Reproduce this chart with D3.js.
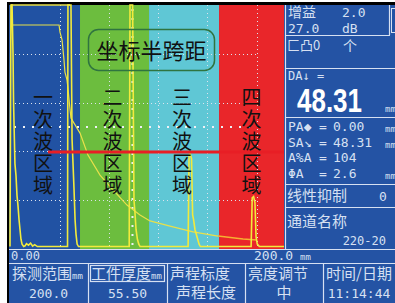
<!DOCTYPE html>
<html>
<head>
<meta charset="utf-8">
<script src="https://cdn.jsdelivr.net/npm/d3@7"></script>
<style>
  html, body { margin: 0; padding: 0; background: #fff; }
  svg { display: block; }
</style>
</head>
<body>
<svg id="chart" width="395" height="303"></svg>
<script>
// ---- data (mm on the sound path axis, % of screen height) ----
const zoneNames = ['一次波区域', '二次波区域', '三次波区域', '四次波区域'];
const zoneEdges = [0, 51.1, 101.5, 152.6, 200];
const zoneColors = ['#2152a3', '#6cbd3e', '#5fc7d5', '#e9262a'];

const gridX = [36.5, 72.3, 108.0, 143.8, 180.3];
const gridY = [20, 40, 60, 80];
const centerX = 89.4;
const centerY = 50;

const gateStart = 27.7;
const gateLevel = 39.8;

// live A-scan trace
const ascan = [
    [0, 1], [0.7, 100], [1.5, 100], [2.2, 80], [2.6, 60], [3.2, 45], [3.6, 35], [4.4, 30],
    [5.1, 22], [5.8, 18], [6.6, 12], [7.3, 8], [8.0, 4], [8.8, 2], [10, 1], [11, 1.3],
    [12, 2.2], [13.5, 1.6], [15, 2.4], [16.5, 1.2], [18, 1.8], [20, 1], [42, 1],
    [42.3, 100], [44.5, 100], [45.3, 45], [46, 35], [46.7, 25], [47.5, 12], [48.2, 6],
    [49, 2], [50, 1], [87, 1], [87.6, 100], [89.5, 100], [90.5, 20], [91.2, 15], [92, 8],
    [93, 4], [94, 2], [95, 1], [130, 1], [130.7, 38.5], [131.5, 39], [132.5, 37], [133.3, 14],
    [134, 12], [135, 8], [136.5, 5], [138, 2], [139, 1], [176, 1], [176.8, 21], [177.8, 21.5],
    [178.8, 19], [179.6, 5], [180.5, 2], [182, 1], [200, 1]
];

// peak envelope across the top of the near field
const envelope = [[0.7, 100], [43.8, 100]];

// distance amplitude curve
const dac = [
    [0.7, 91.8], [35.8, 91.8], [36.5, 88.9], [38.0, 85.7], [38.7, 81.6], [39.4, 77.5],
    [40.1, 72.5], [41.6, 69.3], [42.3, 66.0], [43.1, 61.1], [44.5, 53.7], [51.1, 47.5],
    [56.9, 38.5], [65.7, 30.3], [75.2, 24.2], [85.4, 18.0], [94.9, 13.9], [102.2, 11.5],
    [116.8, 9.4], [133.6, 7.0], [151.8, 5.3], [170.1, 4.1], [180.3, 3.7]
];

const gainLabel = '增益';
const gainStep = '2.0';
const gainValue = '27.0';
const gainUnit = 'dB';
const daValue = '48.31';
const readings = [
    {label: 'PA◆', value: '0.00', unit: 'mm'},
    {label: 'SA↘', value: '48.31', unit: 'mm'},
    {label: 'A%A', value: '104', unit: ''},
    {label: 'ΦA', value: '2.6', unit: 'mm'}
];
const menuLabels = ['探测范围', '工件厚度', '声程标度', '亮度调节', '时间/日期'];
const menuUnits = ['mm', 'mm', '', '', ''];
const menuValues = ['200.0', '55.50', '声程长度', '中', '11:14:44'];
const axisLabels = ['0.00', '200.0'];

// ---- drawing ----
const svg = d3.select('#chart');
const plot = {left: 10, right: 284, top: 5, bottom: 249};

const x = d3.scaleLinear().domain([0, 200]).range([plot.left, plot.right]);
const y = d3.scaleLinear().domain([0, 100]).range([plot.bottom, plot.top]);

const light = '#d6e0f2';
const blue = '#2453a4';
const mono = "'DejaVu Sans Mono', monospace";
const cjk = "'Noto Sans CJK SC', sans-serif";

// frame
svg.append('rect').attr('width', 395).attr('height', 303).attr('fill', '#fff');
svg.append('rect').attr('x', 7).attr('y', 2).attr('width', 388).attr('height', 301).attr('fill', '#000');
svg.append('rect').attr('x', 9).attr('y', 5).attr('width', 386).attr('height', 298).attr('fill', blue);

// colored zones
svg.append('g').selectAll('rect')
    .data(zoneNames)
    .enter().append('rect')
    .attr('x', (d, i) => i === 0 ? plot.left - 1 : x(zoneEdges[i]))
    .attr('y', plot.top)
    .attr('width', (d, i) => x(zoneEdges[i + 1]) - (i === 0 ? plot.left - 1 : x(zoneEdges[i])))
    .attr('height', plot.bottom - plot.top)
    .attr('fill', (d, i) => zoneColors[i]);

// dotted grid
const grid = svg.append('g')
    .attr('stroke', '#dde3ee')
    .attr('stroke-width', 1)
    .attr('stroke-dasharray', '1,3');

grid.selectAll('.gx')
    .data(gridX)
    .enter().append('line')
    .attr('x1', d => Math.round(x(d)) + 0.5).attr('x2', d => Math.round(x(d)) + 0.5)
    .attr('y1', plot.top).attr('y2', plot.bottom);

grid.selectAll('.gy')
    .data(gridY)
    .enter().append('line')
    .attr('x1', x(0) + 5).attr('x2', x(gridX[gridX.length - 1]))
    .attr('y1', d => Math.round(y(d)) + 0.5).attr('y2', d => Math.round(y(d)) + 0.5);

// center cross, bigger dots
const cross = svg.append('g')
    .attr('stroke', '#eef1f6')
    .attr('stroke-width', 2)
    .attr('stroke-dasharray', '2,7');
cross.append('line')
    .attr('x1', x(centerX)).attr('x2', x(centerX))
    .attr('y1', plot.top + 4).attr('y2', plot.bottom);
cross.append('line')
    .attr('x1', x(0) + 4).attr('x2', x(gridX[gridX.length - 1]))
    .attr('y1', y(centerY)).attr('y2', y(centerY));

// traces
const line = d3.line()
    .x(d => x(d[0]))
    .y(d => y(d[1]));

// the curve reads orange where it runs over the red zone
const redStart = zoneEdges[3];
svg.append('path')
    .attr('d', line(dac.filter(d => d[0] <= redStart + 1)))
    .attr('fill', 'none')
    .attr('stroke', '#e8e04a')
    .attr('stroke-width', 1.2);
svg.append('path')
    .attr('d', line(dac.filter(d => d[0] >= redStart - 1)))
    .attr('fill', 'none')
    .attr('stroke', '#f6b030')
    .attr('stroke-width', 1.6);

svg.append('path')
    .attr('d', line(envelope))
    .attr('fill', 'none')
    .attr('stroke', '#e8e04a')
    .attr('stroke-width', 1.5);

svg.append('path')
    .attr('d', line(ascan))
    .attr('fill', 'none')
    .attr('stroke', '#f2ea3c')
    .attr('stroke-width', 1.6);

// gate
svg.append('line')
    .attr('x1', x(gateStart)).attr('x2', plot.right)
    .attr('y1', y(gateLevel)).attr('y2', y(gateLevel))
    .attr('stroke', '#e81e25')
    .attr('stroke-width', 3);

// zone titles, written top to bottom as one vertical text each
svg.append('g').selectAll('text')
    .data(zoneNames)
    .enter().append('text')
    .attr('x', (d, i) => (x(zoneEdges[i]) + x(zoneEdges[i + 1])) / 2 - (i < 3 ? 2 : 0))
    .attr('y', 87)
    .attr('writing-mode', 'vertical-rl')
    .attr('letter-spacing', 2)
    .attr('font-family', cjk)
    .attr('font-size', 20)
    .attr('fill', '#111')
    .text(d => d);

// caption box
svg.append('rect')
    .attr('x', 88.5).attr('y', 29.5).attr('width', 126).attr('height', 41).attr('rx', 10)
    .attr('fill', 'none')
    .attr('stroke', '#2f7440')
    .attr('stroke-width', 1.5);
svg.append('text')
    .attr('x', 151.5).attr('y', 59)
    .attr('text-anchor', 'middle')
    .attr('font-family', cjk)
    .attr('font-size', 22)
    .attr('fill', '#111')
    .text('坐标半跨距');

// ---- right panel ----
const panel = svg.append('g');
const hline = (x1, x2, yy) => panel.append('line')
    .attr('x1', x1).attr('x2', x2).attr('y1', yy).attr('y2', yy)
    .attr('stroke', light).attr('stroke-width', 1.2);
const vline = (xx, y1, y2) => panel.append('line')
    .attr('x1', xx).attr('x2', xx).attr('y1', y1).attr('y2', y2)
    .attr('stroke', light).attr('stroke-width', 1.2);
const label = (txt, xx, yy, size, family, anchor) => panel.append('text')
    .attr('x', xx).attr('y', yy)
    .attr('font-family', family)
    .attr('font-size', size)
    .attr('text-anchor', anchor || 'start')
    .attr('fill', light)
    .text(txt);

vline(285.5, 5, 249);
vline(389.5, 5, 35);
hline(285, 390, 35.5);
hline(285, 395, 68.5);
hline(285, 395, 117.5);
hline(285, 395, 184.5);
hline(285, 395, 207.5);
panel.append('rect').attr('x', 391.5).attr('y', 8.5).attr('width', 6).attr('height', 24)
    .attr('fill', 'none').attr('stroke', light);

label(gainLabel, 288, 17, 14, cjk);
label(gainStep, 342, 17, 13, mono);
label(gainValue, 288, 33, 13, mono);
label(gainUnit, 342, 33, 13, mono);
label('匚凸0', 287, 50, 13, cjk);
label('个', 350, 51, 14, cjk, 'middle');

label('DA↓ =', 288, 80, 12, mono);
panel.append('text')
    .attr('x', 297).attr('y', 112)
    .attr('font-family', "'Liberation Sans', Arial, sans-serif")
    .attr('font-weight', 'bold')
    .attr('font-size', 33)
    .attr('textLength', 65)
    .attr('lengthAdjust', 'spacingAndGlyphs')
    .attr('fill', '#ffffff')
    .text(daValue);
label('mm', 385, 112, 9, mono);

readings.forEach((r, i) => {
    const yy = 131 + i * 15.7;
    label(r.label, 288, yy, 13, mono);
    label('=', 319, yy, 13, mono);
    label(r.value, 333, yy, 13, mono);
    if (r.unit) label(r.unit, 385, yy + 1, 9, mono);
});

label('线性抑制', 287, 201, 15, cjk);
label('0', 379, 201, 13, mono);
label('通道名称', 287, 227, 15, cjk);
label('220-20', 386, 245, 12, mono, 'end');

// ---- axis label row and menu ----
hline(9, 395, 249.5);
hline(9, 395, 263.5);
label(axisLabels[0], 11, 260, 12, mono);
label(axisLabels[1], 254, 260, 13, mono);
label('mm', 300, 260, 9, mono);

const menuEdges = [9, 88, 167, 245, 323, 395];
menuEdges.slice(1, -1).forEach(e => vline(e + 0.5, 263, 303));

menuLabels.forEach((m, i) => {
    const left = menuEdges[i] + 3;
    const t = label(m, left, 279, 15, cjk);
    if (menuUnits[i]) {
        t.append('tspan').attr('font-family', mono).attr('font-size', 9).text(menuUnits[i]);
    }
    const mid = (menuEdges[i] + menuEdges[i + 1]) / 2;
    const isCjk = /[\u4e00-\u9fff]/.test(menuValues[i]);
    label(menuValues[i], mid, 298, isCjk ? 15 : 13, isCjk ? cjk : mono, 'middle');
});

// highlighted menu item
panel.append('rect')
    .attr('x', 90.5).attr('y', 265.5).attr('width', 74).attr('height', 16)
    .attr('fill', 'none').attr('stroke', light).attr('stroke-width', 1.2);
</script>
</body>
</html>
